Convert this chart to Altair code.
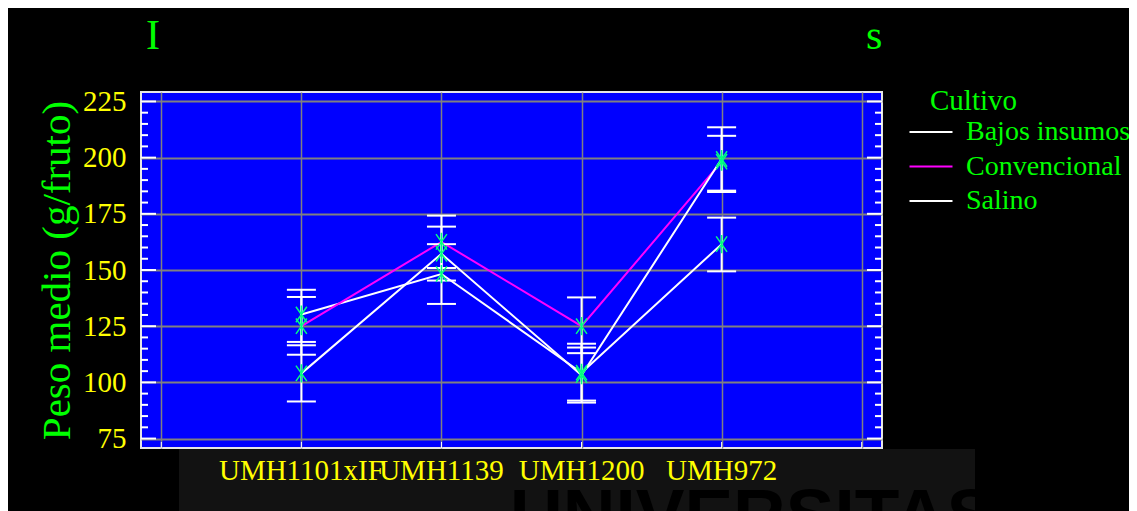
import altair as alt
import pandas as pd

# ---------------- data ----------------
categories = ["UMH1101xIF", "UMH1139", "UMH1200", "UMH972"]
cat_pos = [1, 2, 3, 4]
series = ["Bajos insumos", "Convencional", "Salino"]

bajos_mean = [130.2, 148.2, 104.3, 161.5]
bajos_lo = [118.0, 134.9, 91.9, 149.4]
bajos_hi = [141.2, 161.5, 117.2, 173.3]

conv_mean = [125.0, 162.5, 125.0, 198.2]
conv_lo = [112.3, 150.9, 113.0, 184.7]
conv_hi = [138.0, 174.2, 137.8, 209.7]

sal_mean = [104.0, 157.2, 103.2, 199.4]
sal_lo = [91.5, 145.3, 91.0, 185.3]
sal_hi = [116.5, 169.3, 115.5, 213.5]

y_major = [75, 100, 125, 150, 175, 200, 225]
y_minor = [v for v in range(75, 226, 5) if v % 25 != 0]
x_grid = [0, 1, 2, 3, 4, 5]

rows = []
for name, m, lo, hi in [
    ("Bajos insumos", bajos_mean, bajos_lo, bajos_hi),
    ("Convencional", conv_mean, conv_lo, conv_hi),
    ("Salino", sal_mean, sal_lo, sal_hi),
]:
    for c, p, a, b, d in zip(categories, cat_pos, m, lo, hi):
        rows.append({"cat": c, "pos": p, "series": name, "mean": a, "lo": b, "hi": d})
df = pd.DataFrame(rows)
cats_df = pd.DataFrame({"cat": categories, "pos": cat_pos})
major_df = pd.DataFrame({"v": y_major})
minor_df = pd.DataFrame({"v": y_minor})
xgrid_df = pd.DataFrame({"g": x_grid})
one = pd.DataFrame({"k": [0]})

# ---------------- layout ----------------
W, H = 741, 356
PAD_L, PAD_T, PAD_R, PAD_B = 133, 84, 247, 63
SERIF = "Liberation Serif"
YTITLE = "Peso medio (g/fruto)"

x_scale = alt.Scale(domain=[-0.145, 5.145], nice=False, zero=False)
y_scale = alt.Scale(domain=[70.8, 229.2], nice=False, zero=False)

x_axis = alt.Axis(values=x_grid, grid=True, gridColor="#808080", gridWidth=1.5,
                  labels=False, ticks=False, domain=False)
y_axis = alt.Axis(values=y_major, grid=True, gridColor="#808080", gridWidth=2,
                  ticks=False, domain=False, labelFont=SERIF, labelFontSize=29,
                  labelColor="#FFFF00", labelPadding=15,
                  titleFont=SERIF, titleFontSize=41, titleColor="#00FF00",
                  titleFontWeight="normal", titlePadding=4)


def X(field):
    return alt.X(field, scale=x_scale, axis=x_axis, title=None)


def Y(field):
    return alt.Y(field, scale=y_scale, axis=y_axis, title=YTITLE)


base = alt.Chart(df)

# watermark band under the x labels
band = alt.Chart(one).mark_rect(color="#121212").encode(
    x=alt.value(38), x2=alt.value(834), y=alt.value(357), y2=alt.value(H + PAD_B))
water = alt.Chart(one).mark_text(
    text="UNIVERSITAS", font="Liberation Sans", fontWeight="bold", fontSize=73,
    color="#000000", align="left", baseline="alphabetic").encode(
    x=alt.value(369), y=alt.value(448))

xlabels = alt.Chart(cats_df).mark_text(
    font=SERIF, fontSize=29, color="#FFFF00", align="center", baseline="alphabetic"
).encode(x=X("pos:Q"), y=alt.value(388), text="cat:N")

title_i = alt.Chart(one).mark_text(
    text="I", font=SERIF, fontSize=42, color="#00FF00", align="left",
    baseline="alphabetic").encode(x=alt.value(5), y=alt.value(-43))
title_s = alt.Chart(one).mark_text(
    text="s", font=SERIF, fontSize=42, color="#00FF00", align="left",
    baseline="alphabetic").encode(x=alt.value(725), y=alt.value(-43))

legend_title = alt.Chart(one).mark_text(
    text="Cultivo", font=SERIF, fontSize=29, color="#00FF00", align="left",
    baseline="alphabetic").encode(x=alt.value(789), y=alt.value(18))

# inward ticks
left_major = alt.Chart(major_df).mark_rule(color="#FFFFFF", strokeWidth=2).encode(
    y=Y("v:Q"), x=alt.value(0), x2=alt.value(15))
left_minor = alt.Chart(minor_df).mark_rule(color="#FFFFFF", strokeWidth=2).encode(
    y=Y("v:Q"), x=alt.value(0), x2=alt.value(7))
right_major = alt.Chart(major_df).mark_rule(color="#FFFFFF", strokeWidth=2).encode(
    y=Y("v:Q"), x=alt.value(W), x2=alt.value(W - 15))
right_minor = alt.Chart(minor_df).mark_rule(color="#FFFFFF", strokeWidth=2).encode(
    y=Y("v:Q"), x=alt.value(W), x2=alt.value(W - 7))
bottom_ticks = alt.Chart(xgrid_df).mark_rule(color="#FFFFFF", strokeWidth=1).encode(
    x=X("g:Q"), y=alt.value(H), y2=alt.value(H - 6))

lines = base.mark_line(strokeWidth=2).encode(
    x=X("pos:Q"), y=Y("mean:Q"),
    color=alt.Color("series:N",
                    scale=alt.Scale(domain=series, range=["#FFFFFF", "#FF00FF", "#FFFFFF"]),
                    legend=alt.Legend(
                        title=None, orient="none",
                        legendX=776, legendY=26, padding=0,
                        symbolType="M-2,0L2,0", symbolSize=462, symbolStrokeWidth=2,
                        labelFont=SERIF, labelFontSize=28, labelColor="#00FF00",
                        labelLimit=400, labelOffset=21,
                        rowPadding=6.5)))

err = base.mark_rule(color="#FFFFFF", strokeWidth=2).encode(
    x=X("pos:Q"), y=Y("lo:Q"), y2="hi:Q")
cap_lo = base.mark_rule(color="#FFFFFF", strokeWidth=2, xOffset=-14.5, x2Offset=14.5).encode(
    x=X("pos:Q"), x2="pos:Q", y=Y("lo:Q"))
cap_hi = base.mark_rule(color="#FFFFFF", strokeWidth=2, xOffset=-14.5, x2Offset=14.5).encode(
    x=X("pos:Q"), x2="pos:Q", y=Y("hi:Q"))

star = "M0,-1L0,1M-0.6,-0.85L0.6,0.85M-0.6,0.85L0.6,-0.85"
points = base.mark_point(shape=star, size=330, filled=False, strokeWidth=1.5,
                         color="#00FF80", opacity=1).encode(x=X("pos:Q"), y=Y("mean:Q"))

chart = alt.layer(
    band, water, xlabels, title_i, title_s, legend_title,
    lines, err, cap_lo, cap_hi, points,
    left_major, left_minor, right_major, right_minor, bottom_ticks,
).properties(
    width=W, height=H,
    autosize=alt.AutoSizeParams(type="none"),
    padding={"left": PAD_L, "top": PAD_T, "right": PAD_R, "bottom": PAD_B},
    background="#000000",
).configure_view(
    fill="#0000FF", stroke="#E6E6E6", strokeWidth=2
)

chart.save("out.html", embed_options={"renderer": "svg", "actions": False})
